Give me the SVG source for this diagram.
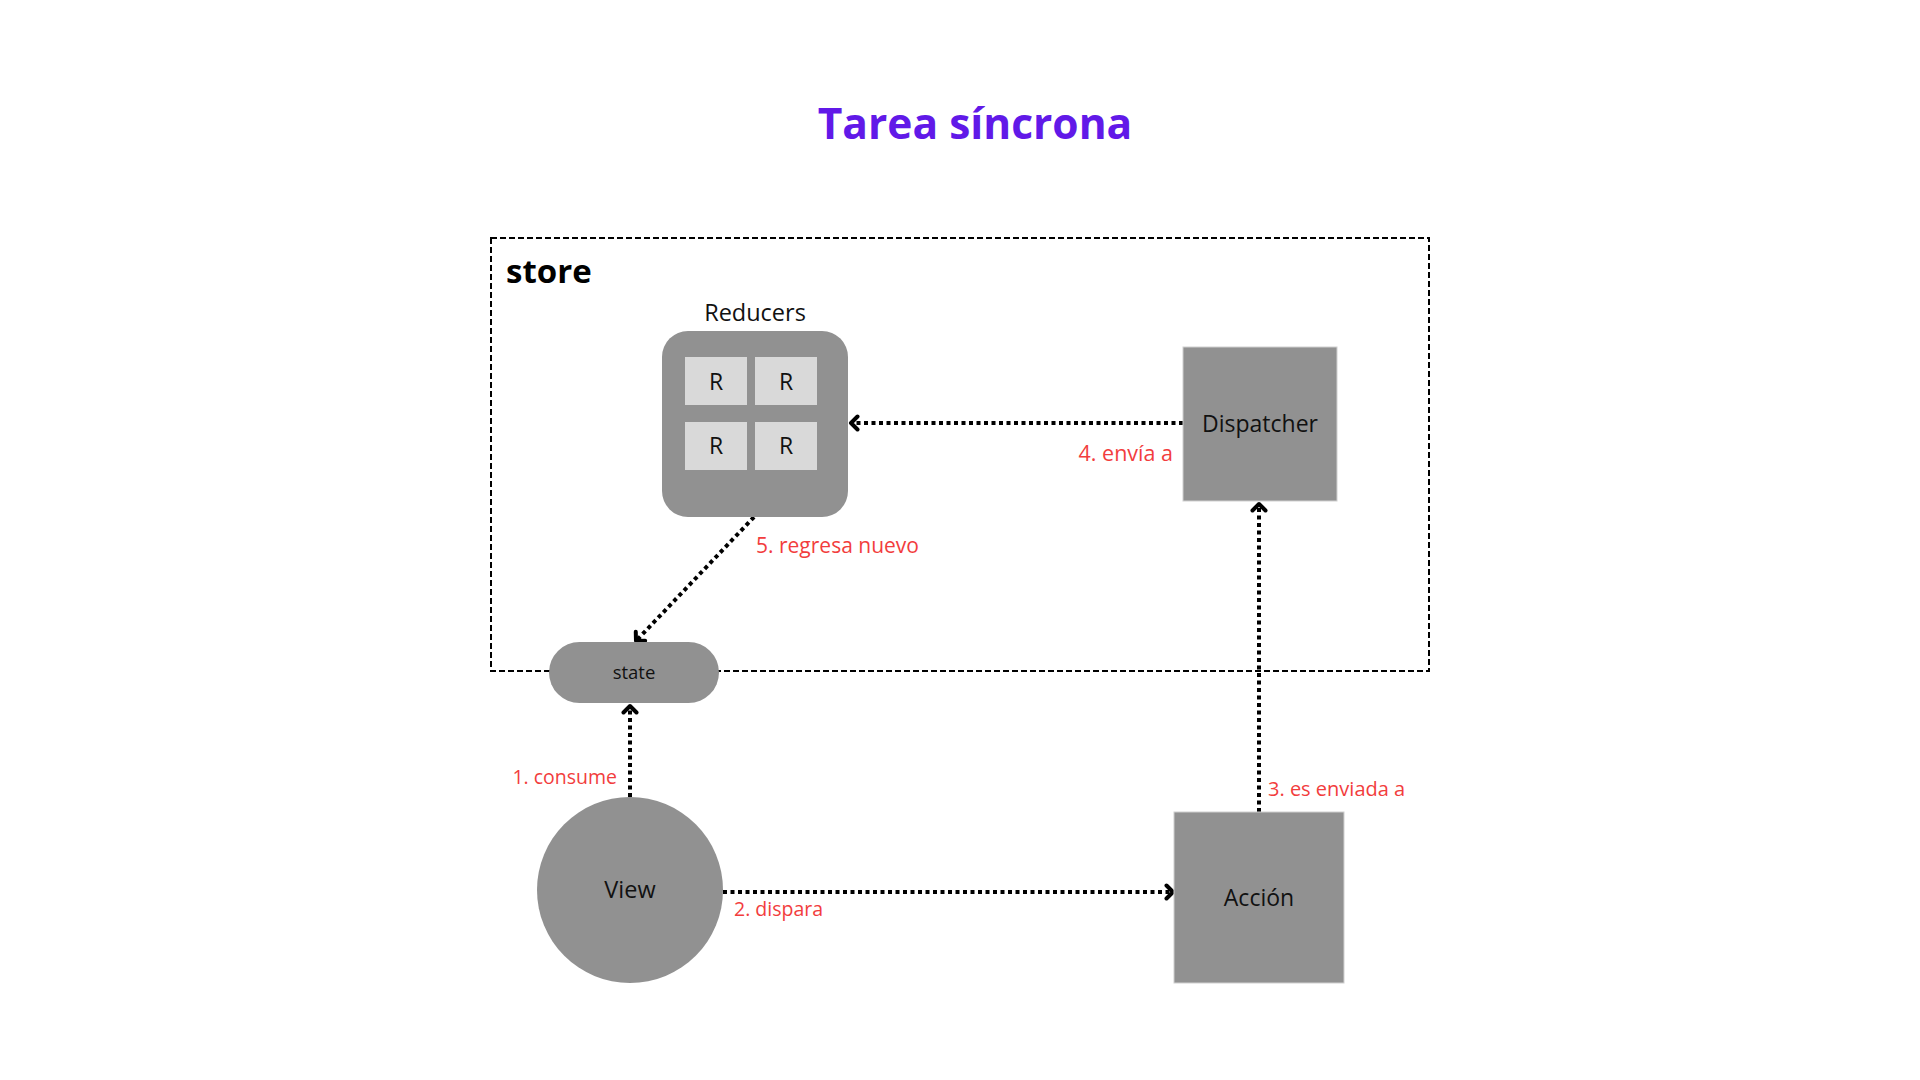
<svg xmlns="http://www.w3.org/2000/svg" width="1920" height="1080" viewBox="0 0 1920 1080">
<defs>
<style>
text{font-family:"Open Sans","Noto Sans","Liberation Sans",sans-serif;}
.node{fill:#919191;}
.lbl{font-size:23px;fill:#111;text-anchor:middle;}
.red{font-size:20px;fill:#f23d3d;}
.conn{stroke:#000;stroke-width:4;stroke-dasharray:4 3.5;fill:none;}
</style>
<marker id="arr" markerUnits="userSpaceOnUse" viewBox="0 0 14 18" refX="10" refY="9" markerWidth="14" markerHeight="18" orient="auto">
<path d="M3.5,2.5 L10,9 L3.5,15.5" fill="none" stroke="#000" stroke-width="4" stroke-linecap="round" stroke-linejoin="round"/>
</marker>
</defs>
<rect width="1920" height="1080" fill="#fff"/>
<text x="975" y="139" style="font-size:42.5px;font-weight:bold" fill="#6119e8" text-anchor="middle">Tarea síncrona</text>
<g id="store">
<rect x="491" y="238" width="938" height="433" fill="none" stroke="#000" stroke-width="2" stroke-dasharray="6 3"/>
<text x="506" y="283" style="font-size:33px;font-weight:bold" fill="#000">store</text>
</g>
<g id="connectors">
<path class="conn" d="M1183,423 L851,423" marker-end="url(#arr)"/>
<path class="conn" d="M1259,812 L1259,504" marker-end="url(#arr)"/>
<path class="conn" d="M630,797 L630,706" marker-end="url(#arr)"/>
<path class="conn" d="M723,892 L1173,892" marker-end="url(#arr)"/>
<path class="conn" d="M754,517 L636,641" marker-end="url(#arr)"/>
<text class="red" x="1173" y="461" text-anchor="end" style="font-size:21.5px">4. envía a</text>
<text class="red" x="1268" y="796">3. es enviada a</text>
<text class="red" x="617" y="784" text-anchor="end" style="font-size:19.5px">1. consume</text>
<text class="red" x="734" y="916" style="font-size:19.5px">2. dispara</text>
<text class="red" x="756" y="553" style="font-size:21px">5. regresa nuevo</text>
</g>
<g id="reducers">
<text class="lbl" x="755" y="321" style="font-size:23.5px">Reducers</text>
<rect class="node" x="662" y="331" width="186" height="186" rx="26"/>
<rect x="685" y="357" width="62" height="48" fill="#d9d9d9"/>
<rect x="755" y="357" width="62" height="48" fill="#d9d9d9"/>
<rect x="685" y="422" width="62" height="48" fill="#d9d9d9"/>
<rect x="755" y="422" width="62" height="48" fill="#d9d9d9"/>
<text class="lbl" x="716" y="390">R</text>
<text class="lbl" x="786" y="390">R</text>
<text class="lbl" x="716" y="454">R</text>
<text class="lbl" x="786" y="454">R</text>
</g>
<g id="dispatcher">
<rect class="node" x="1183" y="347" width="154" height="154" stroke="#d0d0d0" stroke-width="1"/>
<text class="lbl" x="1260" y="432">Dispatcher</text>
</g>
<g id="state">
<rect class="node" x="549" y="642" width="170" height="61" rx="30.5"/>
<text class="lbl" x="634" y="679" style="font-size:18.5px">state</text>
</g>
<g id="view">
<circle class="node" cx="630" cy="890" r="93"/>
<text class="lbl" x="630" y="898" style="font-size:23.5px">View</text>
</g>
<g id="accion">
<rect class="node" x="1174" y="812" width="170" height="171" stroke="#d0d0d0" stroke-width="1"/>
<text class="lbl" x="1259" y="906">Acción</text>
</g>
</svg>
